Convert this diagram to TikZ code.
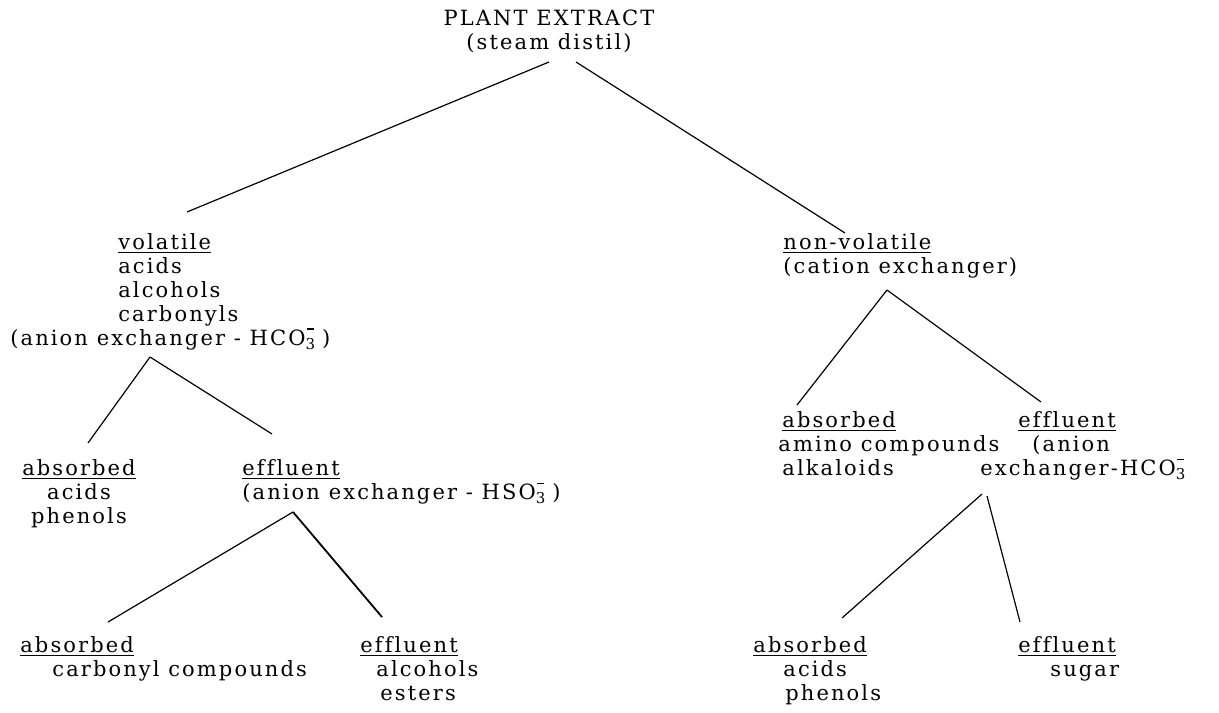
\documentclass[tikz,border=0pt]{standalone}
\usepackage{fontspec}
\setmainfont{DejaVu Serif}[LetterSpace=10, Ligatures=NoCommon]
\usepackage{tikz}
\usetikzlibrary{positioning}
\newcommand{\ion}[1]{\makebox[0pt][l]{\hspace*{0.6pt}\raisebox{7.6pt}{\rule{3.6pt}{0.8pt}}}\raisebox{-2.2pt}{\fontsize{7.5}{7.5}\selectfont #1}}

\begin{document}
\begin{tikzpicture}[x=0.5pt, y=-0.5pt,
    every node/.style={inner sep=0pt, font=\fontsize{10.5}{12}\selectfont},
    lft/.style={anchor=north west, align=left},
    ctr/.style={anchor=north, align=center},
    link/.style={line width=0.6pt}]
  \useasboundingbox (0,0) rectangle (1219,712);

  \node (plant) at (549,10) [ctr] {PLANT EXTRACT\\(steam distil)};

  \node (vol) at (118,233) [lft] {\underline{volatile}\\acids\\alcohols\\carbonyls};
  \node (volx) at (10,328) [lft] {(anion exchanger - HCO\ion{3}\,\,)};
  \node (absA) at (79,459) [ctr] {\underline{absorbed}\\acids\\phenols};
  \node (effA) at (242,459) [lft] {\underline{effluent}\\(anion exchanger - HSO\ion{3}\,\,)};
  \node (absB) at (20,636) [lft] {\underline{absorbed}\\\hspace*{16pt}carbonyl compounds};
  \node (effB) at (360,636) [lft] {\underline{effluent}\\\hspace*{8pt}alcohols\\\hspace*{10pt}esters};

  \node (nvol) at (783,233) [lft] {\underline{non-volatile}\\(cation exchanger)};
  \node (absC) at (778,411) [lft] {\hspace*{2pt}\underline{absorbed}\\amino compounds\\\hspace*{2pt}alkaloids};
  \node (effC) at (980,411) [lft] {\hspace*{19pt}\underline{effluent}\\\hspace*{26pt}(anion\\exchanger-HCO\ion{3}};
  \node (absD) at (753,636) [lft] {\underline{absorbed}\\\hspace*{15pt}acids\\\hspace*{16pt}phenols};
  \node (effD) at (1018,636) [lft] {\underline{effluent}\\\hspace*{16pt}sugar};

  \coordinate (p1) at (549,62);
  \coordinate (p2) at (576,62);
  \coordinate (v1) at (187,212);
  \coordinate (n1) at (845,233);
  \coordinate (vx) at (150,357);
  \coordinate (a1) at (88,443);
  \coordinate (e1) at (272,434);
  \coordinate (ex) at (293,512);
  \coordinate (a2) at (108,622);
  \coordinate (e2) at (382,617);
  \coordinate (nx) at (887,290);
  \coordinate (a3) at (797,405);
  \coordinate (e3) at (1041,402);
  \coordinate (cx) at (982,494);
  \coordinate (cy) at (987,496);
  \coordinate (a4) at (842,618);
  \coordinate (e4) at (1020,622);

  \draw[link] (p1) -- (v1);
  \draw[link] (p2) -- (n1);
  \draw[link] (vx) -- (a1);
  \draw[link] (vx) -- (e1);
  \draw[link] (ex) -- (a2);
  \draw[link, line width=0.9pt] (ex) -- (e2);
  \draw[link] (nx) -- (a3);
  \draw[link] (nx) -- (e3);
  \draw[link] (cx) -- (a4);
  \draw[link] (cy) -- (e4);
\end{tikzpicture}
\end{document}
